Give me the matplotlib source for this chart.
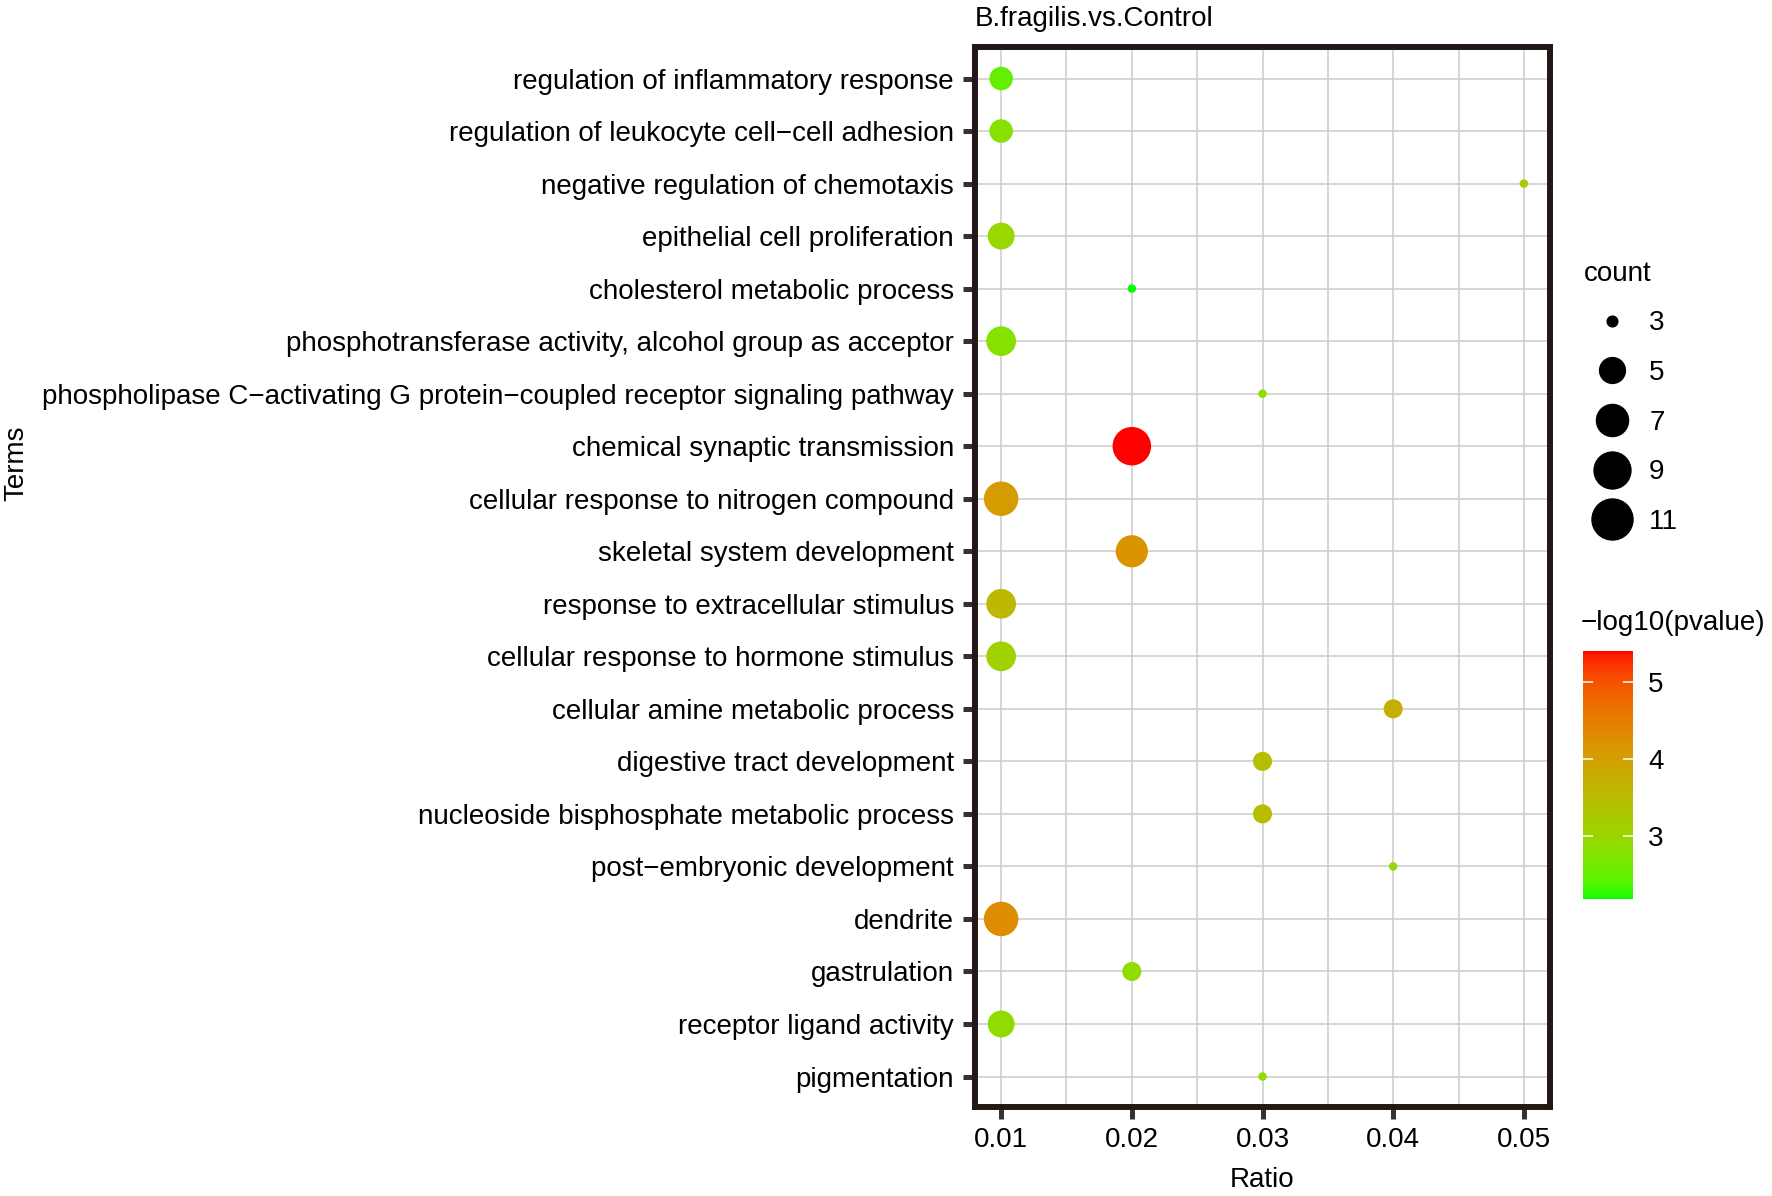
import numpy as np
import matplotlib
matplotlib.use('Agg')
import matplotlib.pyplot as plt
from matplotlib.colors import ListedColormap, Normalize
from matplotlib.lines import Line2D

plt.rcParams['font.family'] = ['Liberation Sans', 'DejaVu Sans']

TERMS = [
    'regulation of inflammatory response',
    'regulation of leukocyte cell\u2212cell adhesion',
    'negative regulation of chemotaxis',
    'epithelial cell proliferation',
    'cholesterol metabolic process',
    'phosphotransferase activity, alcohol group as acceptor',
    'phospholipase C\u2212activating G protein\u2212coupled receptor signaling pathway',
    'chemical synaptic transmission',
    'cellular response to nitrogen compound',
    'skeletal system development',
    'response to extracellular stimulus',
    'cellular response to hormone stimulus',
    'cellular amine metabolic process',
    'digestive tract development',
    'nucleoside bisphosphate metabolic process',
    'post\u2212embryonic development',
    'dendrite',
    'gastrulation',
    'receptor ligand activity',
    'pigmentation',
]
RATIO = [0.01, 0.01, 0.05, 0.01, 0.02, 0.01, 0.03, 0.02, 0.01, 0.02,
         0.01, 0.01, 0.04, 0.03, 0.03, 0.04, 0.01, 0.02, 0.01, 0.03]
COUNT = [5, 5, 3, 6, 3, 7, 3, 11, 9, 8, 7, 7, 4, 4, 4, 3, 9, 4, 6, 3]
NEG_LOG_P = [2.5, 2.8, 3.25, 3.0, 2.19, 2.78, 2.9, 5.40, 4.05, 4.18,
             3.57, 3.09, 3.7, 3.47, 3.47, 2.95, 4.28, 2.9, 2.9, 2.88]
COUNT_BREAKS = [3, 5, 7, 9, 11]
X_TICKS = [0.01, 0.02, 0.03, 0.04, 0.05]

W, H = 1772, 1196


def srgb_to_lab(rgb):
    rgb = np.asarray(rgb, dtype=float)
    lin = np.where(rgb <= 0.04045, rgb / 12.92, ((rgb + 0.055) / 1.055) ** 2.4)
    m = np.array([[0.4124, 0.3576, 0.1805],
                  [0.2126, 0.7152, 0.0722],
                  [0.0193, 0.1192, 0.9505]])
    xyz = m @ lin / np.array([0.95047, 1.0, 1.08883])
    d = 6 / 29
    f = np.where(xyz > d ** 3, np.cbrt(xyz), xyz / (3 * d * d) + 4 / 29)
    return np.array([116 * f[1] - 16, 500 * (f[0] - f[1]), 200 * (f[1] - f[2])])


def lab_to_srgb(lab):
    L, a, b = lab
    fy = (L + 16) / 116
    fx = fy + a / 500
    fz = fy - b / 200
    d = 6 / 29
    f = np.array([fx, fy, fz])
    xyz = np.where(f > d, f ** 3, 3 * d * d * (f - 4 / 29)) * np.array([0.95047, 1.0, 1.08883])
    m_inv = np.linalg.inv(np.array([[0.4124, 0.3576, 0.1805],
                                    [0.2126, 0.7152, 0.0722],
                                    [0.0193, 0.1192, 0.9505]]))
    lin = np.clip(m_inv @ xyz, 0, 1)
    rgb = np.where(lin <= 0.0031308, lin * 12.92, 1.055 * lin ** (1 / 2.4) - 0.055)
    return np.clip(rgb, 0, 1)


# green -> red gradient interpolated in Lab space, like ggplot
lab_low = srgb_to_lab([0, 1, 0])
lab_high = srgb_to_lab([1, 0, 0])
cols = [lab_to_srgb(lab_low + (lab_high - lab_low) * t) for t in np.linspace(0, 1, 256)]
cmap = ListedColormap(cols)
norm = Normalize(vmin=min(NEG_LOG_P), vmax=max(NEG_LOG_P))


def frac(c):
    return (np.asarray(c, dtype=float) - min(COUNT)) / (max(COUNT) - min(COUNT))


def diam_pt(c):
    # ggplot area scale: size grows with sqrt of rescaled count
    return (8.5 + 30.0 * np.sqrt(frac(c))) * 0.72


def legend_diam_pt(c):
    return (10.7 + 30.3 * np.sqrt(frac(c))) * 0.72


fig = plt.figure(figsize=(W / 100, H / 100), dpi=100)
ax = fig.add_axes([975 / W, 1 - 1107 / H, 575 / W, 1060 / H])

y = np.arange(len(TERMS))
ax.scatter(RATIO, y, s=diam_pt(COUNT) ** 2, c=NEG_LOG_P, cmap=cmap, norm=norm,
           linewidths=0, zorder=3)

ax.set_xlim(0.008, 0.052)
ax.set_ylim(len(TERMS) - 0.42, -0.6)
ax.set_xticks(X_TICKS)
ax.set_xticklabels(['%.2f' % v for v in X_TICKS])
ax.set_xticks([0.015, 0.025, 0.035, 0.045], minor=True)
ax.set_yticks(y)
ax.set_yticklabels(TERMS)
ax.tick_params(axis='both', which='major', length=8.5, width=3.6, color='#333333',
               labelsize=20, labelcolor='black')
ax.tick_params(axis='x', which='major', pad=6)
ax.tick_params(axis='y', which='major', pad=6.6)
ax.tick_params(axis='x', which='minor', length=0)
ax.grid(True, which='both', color='#CCCCCC', linewidth=1.1)
ax.set_axisbelow(True)
for sp in ax.spines.values():
    sp.set_linewidth(4.3)
    sp.set_color('#231815')

ax.set_xlabel('Ratio', fontsize=20, labelpad=10)
ax.set_ylabel('Terms', fontsize=20)
ax.yaxis.set_label_coords((29 - 975) / 575, (1107 - 463) / 1060)
ax.set_title('B.fragilis.vs.Control', loc='left', fontsize=20, pad=15)

# size legend
handles = [Line2D([], [], linestyle='none', marker='o', color='black',
                  markersize=legend_diam_pt(c)) for c in COUNT_BREAKS]
leg = fig.legend(handles, [str(c) for c in COUNT_BREAKS], title='count',
                 loc='upper left', bbox_to_anchor=(1570 / W, 1 - 247 / H),
                 frameon=False, fontsize=20, title_fontsize=20,
                 labelspacing=0.85, handletextpad=0.35, borderpad=0,
                 alignment='left')

# colour bar
cax = fig.add_axes([1583 / W, 1 - 899 / H, 50 / W, 248 / H])
sm = matplotlib.cm.ScalarMappable(norm=norm, cmap=cmap)
cb = fig.colorbar(sm, cax=cax, ticks=[3, 4, 5])
cb.outline.set_visible(False)
cax.tick_params(axis='y', direction='in', length=7, width=1.1, color='white',
                left=True, right=True, labelleft=False, labelright=True,
                labelsize=20, pad=11)
fig.text(1581 / W, 1 - 623 / H, '\u2212log10(pvalue)', fontsize=20, ha='left', va='center')

fig.savefig('out.png', dpi=100)
